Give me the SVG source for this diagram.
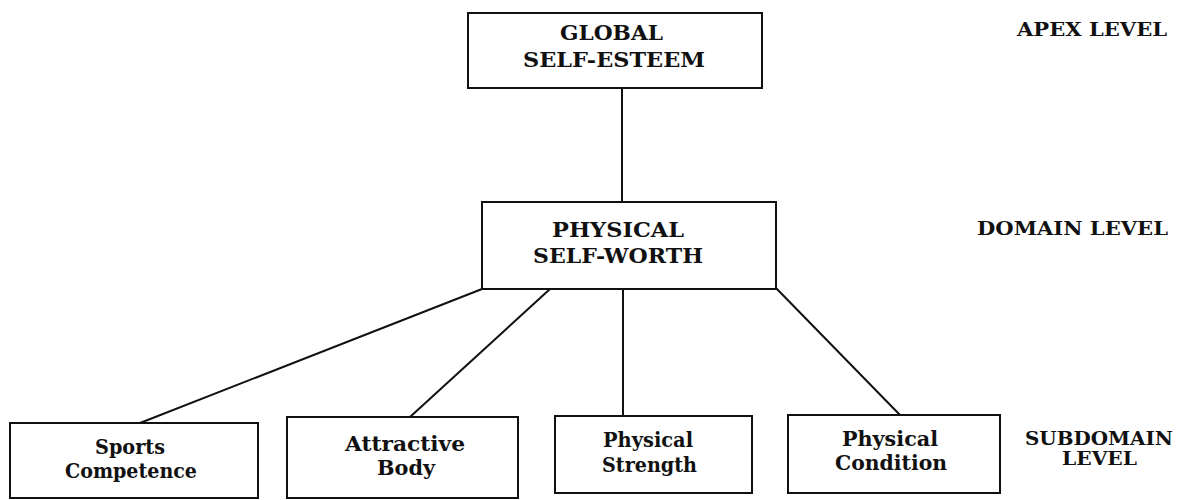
<svg xmlns="http://www.w3.org/2000/svg" width="1178" height="500" viewBox="0 0 1178 500">
<style>
.box{fill:#fff;stroke:#111;stroke-width:2}
.ln{stroke:#111;stroke-width:2;fill:none}
text{font-family:"DejaVu Serif","Liberation Serif",serif;fill:#111;font-weight:bold}
.cap{font-size:21px}
.lvl{font-size:19px}
.sub{font-size:20px}
</style>
<rect width="1178" height="500" fill="#fff"/>
<g id="connectors">
<line class="ln" x1="622" y1="88" x2="622" y2="202"/>
<line class="ln" x1="482" y1="289" x2="140" y2="423"/>
<line class="ln" x1="550" y1="289" x2="410" y2="417"/>
<line class="ln" x1="623" y1="289" x2="623" y2="416"/>
<line class="ln" x1="775" y1="287" x2="900" y2="415"/>
</g>
<g id="global">
<rect class="box" x="468" y="13" width="294" height="75"/>
<text class="cap" x="560" y="40" textLength="103" lengthAdjust="spacingAndGlyphs">GLOBAL</text>
<text class="cap" x="523" y="67" textLength="182" lengthAdjust="spacingAndGlyphs">SELF-ESTEEM</text>
</g>
<g id="physical">
<rect class="box" x="482" y="202" width="294" height="87"/>
<text class="cap" x="552" y="237" textLength="132" lengthAdjust="spacingAndGlyphs">PHYSICAL</text>
<text class="cap" x="533" y="263" textLength="170" lengthAdjust="spacingAndGlyphs">SELF-WORTH</text>
</g>
<g id="sports">
<rect class="box" x="10" y="423" width="248" height="75"/>
<text class="sub" x="95" y="454" textLength="70" lengthAdjust="spacingAndGlyphs">Sports</text>
<text class="sub" x="65" y="478" textLength="132" lengthAdjust="spacingAndGlyphs">Competence</text>
</g>
<g id="attractive">
<rect class="box" x="287" y="417" width="231" height="81"/>
<text class="sub" x="345" y="451" textLength="120" lengthAdjust="spacingAndGlyphs">Attractive</text>
<text class="sub" x="377" y="475" textLength="58" lengthAdjust="spacingAndGlyphs">Body</text>
</g>
<g id="strength">
<rect class="box" x="555" y="416" width="197" height="77"/>
<text class="sub" x="603" y="447" textLength="90" lengthAdjust="spacingAndGlyphs">Physical</text>
<text class="sub" x="602" y="472" textLength="95" lengthAdjust="spacingAndGlyphs">Strength</text>
</g>
<g id="condition">
<rect class="box" x="788" y="415" width="212" height="78"/>
<text class="sub" x="842" y="446" textLength="96" lengthAdjust="spacingAndGlyphs">Physical</text>
<text class="sub" x="835" y="470" textLength="112" lengthAdjust="spacingAndGlyphs">Condition</text>
</g>
<g id="levels">
<text class="lvl" x="1017" y="36" textLength="150" lengthAdjust="spacingAndGlyphs">APEX LEVEL</text>
<text class="lvl" x="977" y="235" textLength="191" lengthAdjust="spacingAndGlyphs">DOMAIN LEVEL</text>
<text class="lvl" x="1025" y="445" textLength="148" lengthAdjust="spacingAndGlyphs">SUBDOMAIN</text>
<text class="lvl" x="1062" y="465" textLength="75" lengthAdjust="spacingAndGlyphs">LEVEL</text>
</g>
</svg>
